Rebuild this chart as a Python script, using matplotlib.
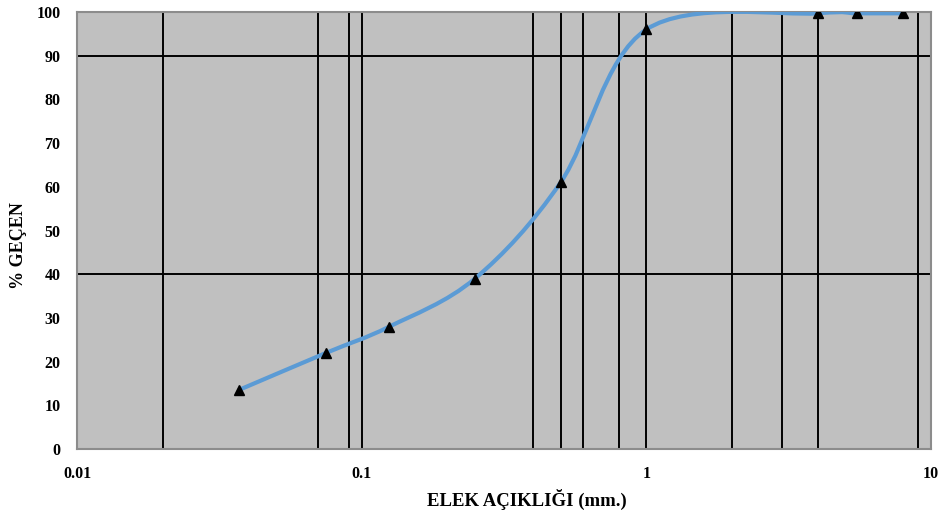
import numpy as np
import matplotlib
matplotlib.use("Agg")
import matplotlib.pyplot as plt
from matplotlib.path import Path
from matplotlib.patches import PathPatch
from matplotlib.ticker import FixedLocator, NullFormatter

# elek acikligi (mm) ve gecen yuzde
elek = [0.037, 0.075, 0.125, 0.25, 0.5, 1.0, 4.0, 5.5, 8.0]
gecen = [13.5, 22.0, 28.0, 39.0, 61.0, 96.0, 99.7, 99.7, 99.7]

x_dikey = [0.02, 0.07, 0.09, 0.1, 0.4, 0.5, 0.6, 0.8, 1, 2, 3, 4, 9]
y_yatay = [40, 90]
x_etiket = [0.01, 0.1, 1, 10]
y_etiket = list(range(0, 101, 10))

plt.rcParams['font.family'] = ['Liberation Serif', 'DejaVu Serif']
plt.rcParams['font.weight'] = 'bold'

fig = plt.figure(figsize=(9.44, 5.11), dpi=100)
ax = fig.add_axes([0.0816, 0.1213, 0.9046, 0.8552])
ax.set_facecolor('#c0c0c0')
ax.set_xscale('log')
ax.set_xlim(0.01, 10)
ax.set_ylim(0, 100)

for s in ax.spines.values():
    s.set_color('#8c8c8c')
    s.set_linewidth(1.5)

for xv in x_dikey:
    ax.axvline(xv, color='black', lw=1.4, zorder=1)
for yv in y_yatay:
    ax.axhline(yv, color='black', lw=1.4, zorder=1)


def bezier_yol(xs, ys, t=1.0 / 6):
    # excel tarzi yumusak cizgi: log uzayinda catmull-rom -> bezier
    lx = np.log10(xs)
    p = np.column_stack([lx, ys])
    n = len(p)
    verts = [p[0]]
    codes = [Path.MOVETO]
    for i in range(n - 1):
        p0 = p[i - 1] if i > 0 else p[i]
        p1 = p[i]
        p2 = p[i + 1]
        p3 = p[i + 2] if i + 2 < n else p[i + 1]
        c1 = p1 + (p2 - p0) * t
        c2 = p2 - (p3 - p1) * t
        verts += [c1, c2, p2]
        codes += [Path.CURVE4] * 3
    verts = np.array(verts)
    verts[:, 0] = 10 ** verts[:, 0]
    return Path(verts, codes)


yol = bezier_yol(elek, gecen)
ax.add_patch(PathPatch(yol, facecolor='none', edgecolor='#5b9bd5', lw=3, zorder=3))
ax.plot(elek, gecen, linestyle='none', marker='^', color='black', markersize=7.5, zorder=4)

ax.xaxis.set_major_locator(FixedLocator(x_etiket))
ax.set_xticklabels(['0.01', '0.1', '1', '10'])
ax.xaxis.set_minor_locator(FixedLocator([0.1, 1]))
ax.xaxis.set_minor_formatter(NullFormatter())
ax.set_yticks(y_etiket)
ax.yaxis.set_minor_locator(FixedLocator(y_yatay))

ax.tick_params(axis='both', which='major', length=0, labelsize=11.5, pad=12)
ax.tick_params(axis='both', which='minor', length=6, width=1.4, color='black', direction='out')
for lab in ax.get_xticklabels() + ax.get_yticklabels():
    lab.set_fontweight('bold')

fig.text(0.558, 0.022, 'ELEK AÇIKLIĞI (mm.)', ha='center', va='center', fontsize=13.5, fontweight='bold')
fig.text(0.02, 0.52, '% GEÇEN', ha='center', va='center', rotation=90, fontsize=13, fontweight='bold')

fig.savefig('out.png', dpi=100)
